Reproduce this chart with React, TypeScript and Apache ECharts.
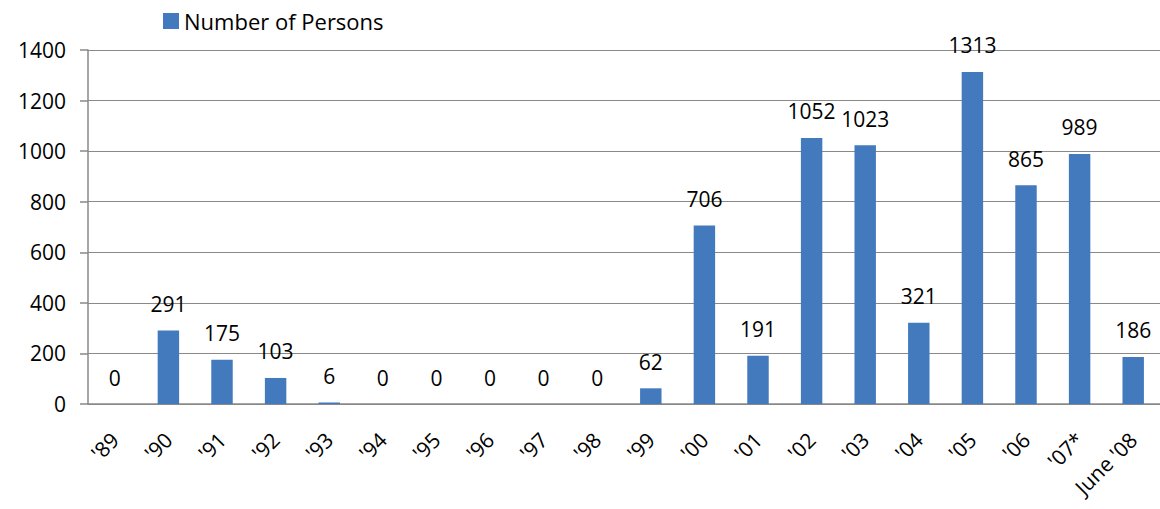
import React, { useEffect, useRef } from "react";
import * as echarts from "echarts";

const categories = ["'89", "'90", "'91", "'92", "'93", "'94", "'95", "'96", "'97", "'98", "'99", "'00", "'01", "'02", "'03", "'04", "'05", "'06", "'07*", "June '08"];
const persons = [0, 291, 175, 103, 6, 0, 0, 0, 0, 0, 62, 706, 191, 1052, 1023, 321, 1313, 865, 989, 186];
const seriesName = "Number of Persons";
const yTicks = { min: 0, max: 1400, interval: 200 };

const FONT = "'Open Sans', 'Noto Sans', sans-serif";

export default function App() {
  const ref = useRef<HTMLDivElement>(null);
  useEffect(() => {
    if (!ref.current) return;
    const chart = echarts.init(ref.current, undefined, { renderer: "svg" });
    chart.setOption({
      animation: false,
      textStyle: { fontFamily: FONT },
      legend: {
        data: [seriesName],
        left: 158,
        top: 5,
        itemWidth: 16,
        itemHeight: 16,
        itemGap: 6,
        icon: "rect",
        textStyle: { fontSize: 22, color: "#000", fontFamily: FONT },
      },
      grid: { left: 88, right: 0, top: 50, bottom: 105, containLabel: false },
      xAxis: {
        type: "category",
        data: categories,
        axisLine: { lineStyle: { color: "#898989", width: 1.5 } },
        axisTick: { inside: true, length: 8, lineStyle: { color: "#898989", width: 1.5 } },
        axisLabel: { rotate: 45, fontSize: 21, color: "#000", margin: 32, interval: 0, fontFamily: FONT },
      },
      yAxis: {
        type: "value",
        min: yTicks.min,
        max: yTicks.max,
        interval: yTicks.interval,
        axisLine: { show: true, lineStyle: { color: "#898989", width: 1.5 } },
        axisTick: { show: true, length: 8, lineStyle: { color: "#898989", width: 1.5 } },
        splitLine: { lineStyle: { color: "#898989", width: 1.2 } },
        axisLabel: { fontSize: 21, color: "#000", margin: 22, fontFamily: FONT, formatter: (v: number) => String(v) },
      },
      series: [
        {
          name: seriesName,
          type: "bar",
          data: persons,
          barWidth: "40%",
          itemStyle: { color: "#4379BD" },
          label: { show: true, position: "top", distance: 16, fontSize: 21, color: "#000", fontFamily: FONT },
        },
      ],
    });
    return () => chart.dispose();
  }, []);
  return <div ref={ref} style={{ position: "absolute", left: 0, top: 0, width: 1160, height: 509 }} />;
}
